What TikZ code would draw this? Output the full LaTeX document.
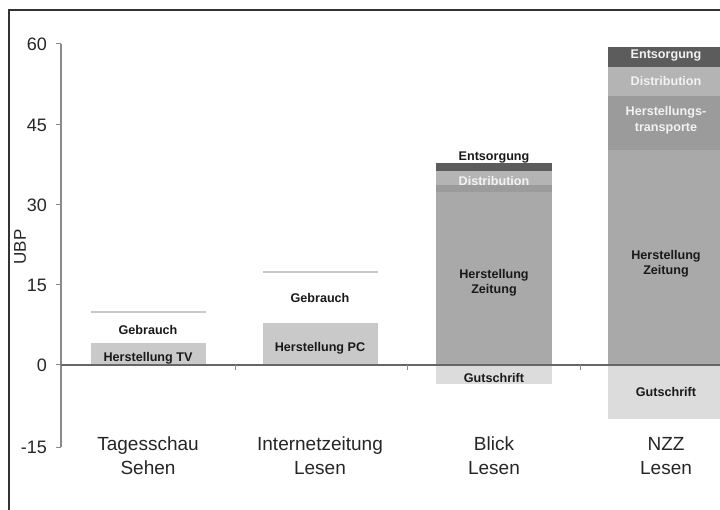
\documentclass[tikz,border=0pt]{standalone}
\usepackage{fontspec}
\setmainfont{Liberation Sans}
\definecolor{cHerst}{HTML}{C9C9C9}
\definecolor{cZeit}{HTML}{A9A9A9}
\definecolor{cDist}{HTML}{B4B4B4}
\definecolor{cEnts}{HTML}{5C5C5C}
\definecolor{cTrans}{HTML}{9B9B9B}
\definecolor{cGut}{HTML}{DCDCDC}
\definecolor{cGeb}{HTML}{C8C8C8}
\definecolor{cAxis}{HTML}{8A8A8A}
\definecolor{cLight}{HTML}{F2F2F2}
\begin{document}
\begin{tikzpicture}[x=1pt,y=-1pt,
  small/.style={font=\fontsize{12.6}{14.5}\selectfont\bfseries, text=black!90, align=center, inner sep=0pt},
  smallw/.style={small, text=cLight},
  num/.style={font=\fontsize{18}{20}\selectfont, text=black!85, anchor=east, inner sep=0pt},
  cat/.style={font=\fontsize{19}{24}\selectfont, text=black!85, align=center, inner sep=0pt}]
\useasboundingbox (0,0) rectangle (720,510);
\fill[white] (0,0) rectangle (720,510);
% frame
\draw[line width=1.5pt, black!80] (9,510) -- (9,10) -- (720,10);

% Tagesschau
\fill[cHerst] (91,343) rectangle (206,365);
\draw[cGeb, line width=1.2pt] (91,312) -- (206,312);
% Internetzeitung
\fill[cHerst] (263,323) rectangle (378,365);
\draw[cGeb, line width=1.2pt] (263,272) -- (378,272);
% Blick
\fill[cZeit] (436,192) rectangle (552,365);
\fill[cTrans] (436,185) rectangle (552,192);
\fill[cDist] (436,171) rectangle (552,185);
\fill[cEnts] (436,163) rectangle (552,171);
\fill[cGut] (436,365) rectangle (552,384);
% NZZ
\fill[cZeit] (608,150) rectangle (720,365);
\fill[cTrans] (608,96) rectangle (720,150);
\fill[cDist] (608,67) rectangle (720,96);
\fill[cEnts] (608,47) rectangle (720,67);
\fill[cGut] (608,365) rectangle (720,419);

% axes
\draw[cAxis, line width=1.2pt] (61,44) -- (61,447);
\foreach \yy in {44,125,205,285,365,447} \draw[cAxis, line width=1pt] (56,\yy) -- (61,\yy);
\draw[black!60, line width=1.3pt] (61,365) -- (720,365);
\foreach \xx in {235,407,580} \draw[cAxis, line width=1pt] (\xx,365) -- (\xx,370);

% axis labels
\node[num] (n60) at (47,44) {60};
\node[num] (n45) at (47,125) {45};
\node[num] (n30) at (47,205) {30};
\node[num] (n15) at (47,285) {15};
\node[num] (n0) at (47,365) {0};
\node[num] (nm15) at (47,447) {-15};
\node[font=\fontsize{17}{20}\selectfont, text=black!85, rotate=90, inner sep=0pt] (ubp) at (20,247) {UBP};

% category labels
\node[cat] (c1) at (148,456) {Tagesschau\\Sehen};
\node[cat] (c2) at (320,456) {Internetzeitung\\Lesen};
\node[cat] (c3) at (494,456) {Blick\\Lesen};
\node[cat] (c4) at (666,456) {NZZ\\Lesen};

% bar labels
\node[small] (t1) at (148,330) {Gebrauch};
\node[small] (t2) at (148,358) {Herstellung TV};
\node[small] (i1) at (320,298) {Gebrauch};
\node[small] (i2) at (320,348) {Herstellung PC};
\node[small] (b1) at (494,158) {Entsorgung};
\node[smallw] (b2) at (494,181) {Distribution};
\node[small] (b3) at (494,283) {Herstellung\\Zeitung};
\node[small] (b4) at (494,378) {Gutschrift};
\node[smallw] (z1) at (666,56) {Entsorgung};
\node[smallw] (z2) at (666,81) {Distribution};
\node[smallw, font=\fontsize{12.6}{15.5}\selectfont\bfseries] (z3) at (666,120) {Herstellungs-\\transporte};
\node[small] (z4) at (666,264) {Herstellung\\Zeitung};
\node[small] (z5) at (666,392) {Gutschrift};
\end{tikzpicture}
\end{document}
